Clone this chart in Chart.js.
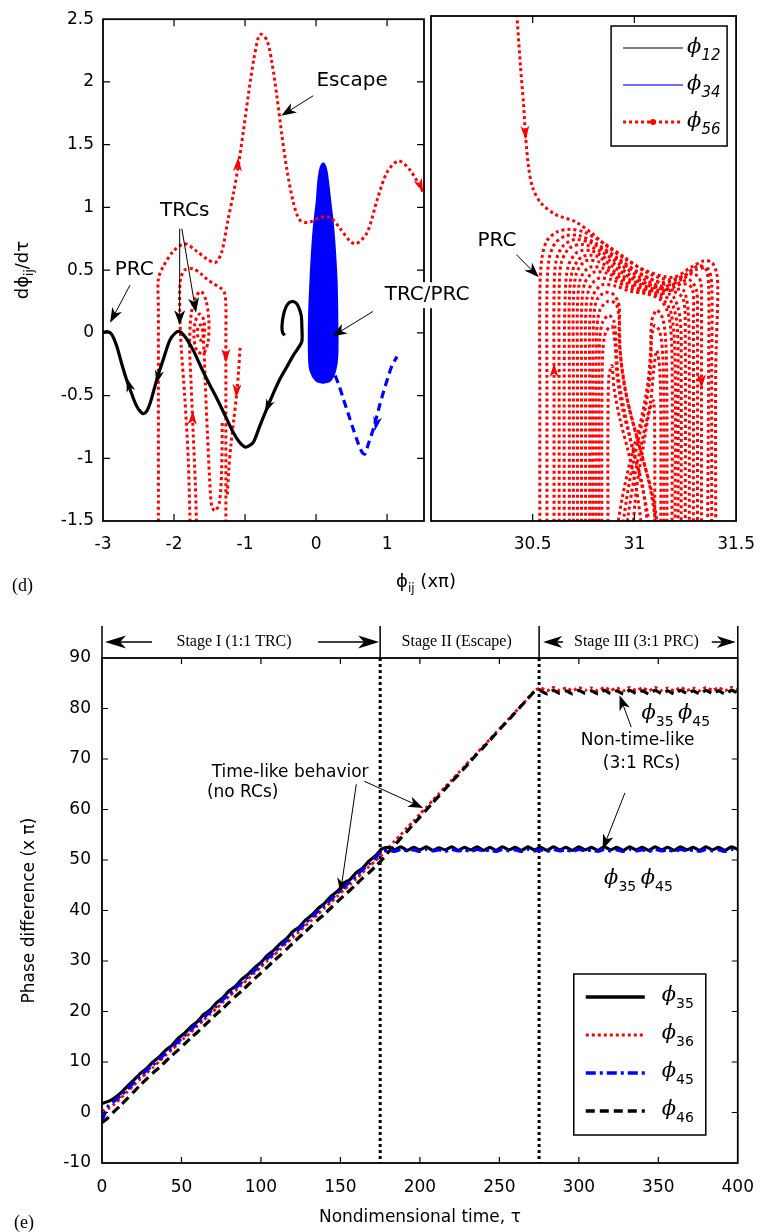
<!DOCTYPE html>
<html>
<head>
<meta charset="utf-8">
<title>Phase difference trajectories</title>
<script src="https://cdn.jsdelivr.net/npm/chart.js@4.4.1/dist/chart.umd.min.js"></script>
<style>
  body { margin: 0; background: #fff; }
  #page { position: relative; width: 768px; height: 1232px; }
  #page canvas { position: absolute; left: 0; top: 0; }
</style>
</head>
<body>
<div id="page">
  <canvas id="phase" width="768" height="1232"></canvas>
  <canvas id="prc" width="768" height="1232"></canvas>
  <canvas id="escape" width="768" height="1232"></canvas>
</div>
<script>
const SANS = '"DejaVu Sans", sans-serif';
const SERIF = '"Liberation Serif", "Times New Roman", serif';
const GREEK = '"DejaVu Serif", serif';
const PHI = '\u03d5';
const RED = '#ff0000', BLUE = '#0000ff';

// ---------- (d) left: phase portrait, phi (x pi) vs dphi/dtau ----------
const phi12Path = [[-3,0],[-2.94,0.01],[-2.88,-0.01],[-2.81,-0.1],[-2.74,-0.24],[-2.67,-0.37],[-2.6,-0.48],[-2.53,-0.58],
  [-2.47,-0.63],[-2.43,-0.645],[-2.38,-0.62],[-2.33,-0.55],[-2.29,-0.47],[-2.22,-0.33],[-2.15,-0.21],[-2.06,-0.06],
  [-1.98,0],[-1.92,0.01],[-1.86,-0.02],[-1.82,-0.05],[-1.72,-0.15],[-1.63,-0.26],[-1.52,-0.39],[-1.4,-0.52],
  [-1.28,-0.66],[-1.17,-0.79],[-1.08,-0.87],[-1,-0.91],[-0.94,-0.9],[-0.88,-0.87],[-0.79,-0.74],[-0.69,-0.6],
  [-0.6,-0.48],[-0.51,-0.37],[-0.41,-0.27],[-0.32,-0.18],[-0.25,-0.12],[-0.2,-0.07],[-0.2,0.05],[-0.21,0.14],
  [-0.27,0.23],[-0.34,0.25],[-0.41,0.22],[-0.46,0.14],[-0.48,0.05],[-0.47,0],[-0.44,-0.02]];
const phi34Blob = [[0.1,-0.4],[0.2,-0.38],[0.27,-0.3],[0.3,-0.18],[0.3,0.1],[0.29,0.4],[0.27,0.62],[0.24,0.85],
  [0.2,1.05],[0.17,1.2],[0.14,1.31],[0.1,1.35],[0.06,1.31],[0.03,1.2],[0.01,1.05],[-0.03,0.85],[-0.06,0.62],
  [-0.08,0.4],[-0.1,0.1],[-0.1,-0.18],[-0.08,-0.3],[0,-0.38],[0.1,-0.4]];
const phi34Tail = [[0.27,-0.34],[0.33,-0.43],[0.38,-0.52],[0.45,-0.64],[0.52,-0.76],[0.58,-0.86],[0.62,-0.92],
  [0.66,-0.96],[0.69,-0.965],[0.74,-0.88],[0.81,-0.76],[0.88,-0.61],[0.95,-0.47],[1.01,-0.36],[1.07,-0.26],[1.14,-0.19]];
const phi56Escape = [[-2.22,-1.6],[-2.22,-0.5],[-2.22,0.2],[-2.22,0.43],[-2.15,0.53],[-2.01,0.65],[-1.85,0.71],
  [-1.68,0.65],[-1.54,0.59],[-1.42,0.56],[-1.33,0.64],[-1.24,0.9],[-1.16,1.12],[-1.09,1.35],[-1.02,1.62],
  [-0.95,1.91],[-0.88,2.17],[-0.81,2.36],[-0.77,2.38],[-0.69,2.33],[-0.62,2.15],[-0.55,1.88],[-0.48,1.57],
  [-0.41,1.3],[-0.32,1.04],[-0.23,0.9],[-0.11,0.88],[0.06,0.92],[0.2,0.92],[0.34,0.83],[0.48,0.73],[0.57,0.71],
  [0.72,0.8],[0.86,1.06],[1,1.28],[1.16,1.37],[1.32,1.3],[1.51,1.12]];
const phi56Trc = [
  [[-1.77,-1.6],[-1.8,-1],[-1.85,-0.5],[-1.9,-0.1],[-1.92,0.2],[-1.91,0.42],[-1.85,0.5],[-1.73,0.51],[-1.62,0.47],
   [-1.54,0.43],[-1.44,0.39],[-1.35,0.36],[-1.29,0.32],[-1.27,0.22],[-1.27,0],[-1.27,-0.5],[-1.27,-1],[-1.27,-1.6]],
  [[-1.68,-1.6],[-1.7,-1.2],[-1.73,-0.8],[-1.76,-0.4],[-1.78,-0.1],[-1.76,0.14],[-1.7,0.28],[-1.62,0.33],[-1.55,0.26],
   [-1.51,0.1],[-1.52,-0.07],[-1.58,-0.16],[-1.67,-0.15],[-1.72,-0.04],[-1.7,0.09],[-1.64,0.15],[-1.58,0.1],
   [-1.57,0],[-1.6,-0.06],[-1.66,-0.04],[-1.66,0.05],[-1.61,0.06],[-1.58,-0.12],[-1.56,-0.4],[-1.53,-0.8],
   [-1.5,-1.15],[-1.47,-1.38],[-1.42,-1.42],[-1.36,-1.35],[-1.33,-1.1],[-1.32,-0.7]],
  [[-1.07,-0.12],[-1.09,-0.3],[-1.12,-0.5],[-1.16,-0.7],[-1.2,-0.9],[-1.23,-1.1],[-1.25,-1.3]]
];

// ---------- (d) right: settling into the 3:1 PRC ----------
const phi56Entry = [[30.42,2.56],[30.44,2.1],[30.455,1.8],[30.465,1.55],[30.48,1.3],[30.5,1.14],[30.54,1.02],
  [30.61,0.93],[30.71,0.87],[30.79,0.78],[30.87,0.67],[30.96,0.57],[31.06,0.48],[31.19,0.43],[31.28,0.51],
  [31.34,0.56],[31.38,0.55],[31.405,0.46],[31.41,0.3],[31.4,-0.3],[31.4,-1.6]];
const phi56Loops = [
  [[30.535,-1.6],[30.535,-0.5],[30.535,0.3],[30.545,0.58],[30.57,0.72],[30.62,0.79],[30.68,0.81],[30.75,0.79],[30.84,0.71],[30.95,0.59],[31.06,0.47],[31.17,0.41],[31.25,0.45],[31.31,0.52],[31.35,0.5],[31.365,0.36],[31.365,-0.3],[31.36,-1.6]],
  [[30.57,-1.6],[30.57,-0.4],[30.57,0.3],[30.58,0.57],[30.61,0.7],[30.665,0.76],[30.73,0.76],[30.81,0.7],[30.92,0.58],[31.03,0.46],[31.13,0.39],[31.22,0.42],[31.3,0.49],[31.36,0.5],[31.38,0.38],[31.38,-0.3],[31.38,-1.6]],
  [[30.605,-1.6],[30.605,-0.4],[30.605,0.3],[30.615,0.56],[30.65,0.68],[30.71,0.73],[30.79,0.7],[30.89,0.6],[30.99,0.49],[31.09,0.41],[31.17,0.37],[31.24,0.42],[31.29,0.46],[31.325,0.4],[31.33,0.2],[31.33,-0.4],[31.33,-1.6]],
  [[30.63,-1.6],[30.63,-0.4],[30.63,0.3],[30.64,0.54],[30.68,0.66],[30.75,0.69],[30.84,0.63],[30.94,0.52],[31.04,0.42],[31.13,0.36],[31.21,0.38],[31.27,0.41],[31.305,0.33],[31.31,0.1],[31.31,-1.6]],
  [[30.655,-1.6],[30.655,-0.3],[30.66,0.3],[30.675,0.52],[30.72,0.63],[30.79,0.64],[30.88,0.56],[30.98,0.45],[31.08,0.37],[31.17,0.34],[31.24,0.38],[31.285,0.34],[31.29,0.1],[31.29,-1.6]],
  [[30.68,-1.6],[30.68,-0.3],[30.68,0.25],[30.695,0.48],[30.74,0.59],[30.81,0.6],[30.9,0.51],[31,0.41],[31.1,0.35],[31.18,0.33],[31.24,0.33],[31.265,0.15],[31.27,-0.3],[31.27,-1.6]],
  [[30.7,-1.6],[30.7,-0.3],[30.7,0.25],[30.715,0.46],[30.76,0.56],[30.83,0.55],[30.92,0.46],[31.02,0.38],[31.11,0.33],[31.19,0.32],[31.24,0.26],[31.25,0],[31.25,-1.6]],
  [[30.72,-1.6],[30.72,-0.3],[30.72,0.2],[30.735,0.42],[30.78,0.51],[30.85,0.5],[30.94,0.42],[31.03,0.35],[31.12,0.31],[31.19,0.28],[31.225,0.1],[31.23,-0.3],[31.23,-1.6]],
  [[30.74,-1.6],[30.74,-0.3],[30.74,0.15],[30.755,0.38],[30.8,0.47],[30.87,0.46],[30.95,0.39],[31.04,0.33],[31.12,0.3],[31.18,0.24],[31.21,0.05],[31.215,-0.4],[31.215,-1.6]],
  [[30.76,-1.6],[30.76,-0.3],[30.76,0.1],[30.775,0.33],[30.82,0.42],[30.89,0.41],[30.97,0.35],[31.05,0.31],[31.13,0.27],[31.18,0.15],[31.2,-0.2],[31.2,-1.6]],
  [[30.78,-1.6],[30.78,-0.3],[30.78,0.05],[30.795,0.28],[30.84,0.37],[30.91,0.36],[30.98,0.32],[31.06,0.3],[31.13,0.25],[31.17,0.12],[31.185,-0.2],[31.185,-1.6]],
  [[30.795,-1.6],[30.795,-0.4],[30.8,0.1],[30.815,0.25],[30.855,0.31],[30.9,0.29],[30.925,0.2],[30.925,-0.05],[30.94,-0.3],[30.97,-0.58],[31.02,-0.88],[31.07,-1.18],[31.1,-1.45],[31.11,-1.6]],
  [[30.81,-1.6],[30.81,-0.5],[30.815,0],[30.83,0.17],[30.87,0.24],[30.91,0.22],[30.925,0.1],[30.93,-0.15],[30.95,-0.42],[30.99,-0.7],[31.04,-1],[31.09,-1.3],[31.12,-1.6]],
  [[30.825,-1.6],[30.825,-0.5],[30.83,-0.05],[30.845,0.08],[30.875,0.13],[30.9,0.08],[30.91,-0.1],[30.92,-0.35],[30.95,-0.62],[30.99,-0.92],[31.04,-1.22],[31.07,-1.6]],
  [[30.84,-1.6],[30.84,-0.6],[30.845,-0.15],[30.86,0],[30.89,0.04],[30.905,-0.1],[30.915,-0.35],[30.94,-0.6],[30.98,-0.85],[31.02,-1.1],[31.06,-1.4],[31.08,-1.6]],
  [[30.87,-1.6],[30.87,-0.7],[30.875,-0.35],[30.89,-0.27],[30.9,-0.45],[30.93,-0.7],[30.97,-0.95],[31.01,-1.25],[31.04,-1.6]],
  [[31.16,-1.6],[31.16,-0.6],[31.155,-0.1],[31.14,0.1],[31.11,0.17],[31.085,0.08],[31.08,-0.15],[31.065,-0.42],[31.03,-0.72],[30.98,-1.02],[30.94,-1.32],[30.91,-1.6]],
  [[31.145,-1.6],[31.145,-0.6],[31.14,-0.2],[31.125,0],[31.1,0.05],[31.085,-0.05],[31.08,-0.3],[31.06,-0.55],[31.02,-0.85],[30.98,-1.15],[30.95,-1.45],[30.94,-1.6]],
  [[31.13,-1.6],[31.13,-0.7],[31.125,-0.3],[31.11,-0.15],[31.095,-0.3],[31.08,-0.55],[31.04,-0.85],[31,-1.15],[30.97,-1.45],[30.96,-1.6]],
  [[31.1,-1.6],[31.1,-0.9],[31.095,-0.55],[31.075,-0.62],[31.04,-0.95],[31.01,-1.25],[30.99,-1.6]]
];

// ---------- (e) phase differences vs nondimensional time ----------
const tau = [0,4,8,12,16,20,24,28,32,36,40,44,48,52,56,60,64,68,72,76,80,84,88,92,96,
  100,104,108,112,116,120,124,128,132,136,140,144,148,152,156,160,164,168,172,176,180,184,188,192,196,
  200,204,208,212,216,220,224,228,232,236,240,244,248,252,256,260,264,268,272,276,280,284,288,292,296,
  300,304,308,312,316,320,324,328,332,336,340,344,348,352,356,360,364,368,372,376,380,384,388,392,396,400];
const phi35 = [1.8,2.2,2.9,3.9,5.2,6.4,7.7,8.7,10.0,11.0,12.3,13.3,14.7,15.7,17.0,18.0,19.4,20.3,21.7,22.7,
  24.1,25.0,26.4,27.4,28.7,29.7,31.1,32.1,33.4,34.4,35.8,36.7,38.1,39.1,40.4,41.4,42.8,43.8,45.1,46.1,
  47.5,48.4,49.8,50.8,52.2,
  52.5,52.0,52.6,51.9,52.5,52.0,52.6,51.9, 52.4,52.0,52.6,51.9,52.5,52.0,52.6,51.9,
  52.5,51.9,52.6,52.0,52.5,51.9,52.6,52.0, 52.5,51.9,52.6,52.0,52.5,51.9,52.6,52.0,
  52.5,51.9,52.6,52.0,52.5,51.9,52.6,52.0, 52.5,51.9,52.6,52.0,52.5,51.9,52.6,52.0,
  52.5,51.9,52.6,52.0,52.5,51.9,52.6,52.1];
const phi36 = [0.3,0.8,1.7,2.9,4.1,5.4,6.6,7.8,8.9,10.1,11.3,12.4,13.6,14.8,15.9,17.1,18.3,19.4,20.6,21.8,
  23.0,24.1,25.3,26.5,27.6,28.8,30.0,31.1,32.3,33.5,34.6,35.8,37.0,38.1,39.3,40.5,41.6,42.8,44.0,45.1,
  46.3,47.5,48.7,49.8,51.0,
  52.3,53.7,55.0,56.4,57.7,59.1,60.4,61.8,63.1,64.5,65.8,67.2,68.5,69.9,71.2,72.6,73.9,75.3,76.6,78.0,
  79.3,80.7,82.0,83.5,
  84.1,83.5,84.2,83.6,84.1,83.5,84.2,83.6, 84.1,83.5,84.2,83.6,84.1,83.5,84.2,83.6,
  84.1,83.5,84.2,83.6,84.1,83.5,84.2,83.6, 84.1,83.5,84.2,83.6,84.1,83.5,84.2,83.7];
const phi45 = [-1.6,1.3,2.3,3.4,4.6,5.9,7.2,8.3,9.4,10.6,11.7,12.9,14.1,15.2,16.4,17.6,18.8,19.9,21.1,22.3,
  23.5,24.6,25.8,27.0,28.1,29.3,30.5,31.6,32.8,34.0,35.2,36.3,37.5,38.7,39.9,41.0,42.2,43.4,44.5,45.7,
  46.9,48.1,49.2,50.4,51.7,
  52.0,51.7,52.1,51.8,52.0,51.7,52.1,51.8, 52.0,51.7,52.1,51.8,52.0,51.7,52.1,51.8,
  52.0,51.7,52.1,51.8,52.0,51.7,52.1,51.8, 52.0,51.7,52.1,51.8,52.0,51.7,52.1,51.8,
  52.0,51.7,52.1,51.8,52.0,51.7,52.1,51.8, 52.0,51.7,52.1,51.8,52.0,51.7,52.1,51.8,
  52.0,51.7,52.1,51.8,52.0,51.7,52.1,51.9];
const phi46 = [-2.0,-1.0,0.3,1.5,2.8,4.1,5.4,6.6,7.8,8.9,10.1,11.3,12.4,13.6,14.8,15.9,17.1,18.3,19.5,20.6,
  21.8,23.0,24.1,25.3,26.5,27.6,28.8,30.0,31.1,32.3,33.5,34.7,35.8,37.0,38.2,39.3,40.5,41.7,42.9,44.0,
  45.2,46.4,47.5,48.7,50.0,
  51.5,52.9,54.3,55.7,57.1,58.5,59.9,61.3,62.7,64.1,65.5,66.8,68.2,69.6,71.0,72.3,73.7,75.1,76.5,77.8,
  79.2,80.6,82.0,83.3,
  83.5,82.9,83.6,83.0,83.5,82.9,83.6,83.0, 83.5,82.9,83.6,83.0,83.5,82.9,83.6,83.0,
  83.5,82.9,83.6,83.0,83.5,82.9,83.6,83.0, 83.5,82.9,83.6,83.0,83.5,82.9,83.6,83.1];
const stageBounds = [175, 275];
const stageNames = ['Stage I (1:1 TRC)', 'Stage II (Escape)', 'Stage III (3:1 PRC)'];

// ---------- helpers ----------
const toPts = a => a.map(p => ({x: p[0], y: p[1]}));
const series = v => tau.map((t, i) => ({x: t, y: v[i]}));

function head(ctx, x1, y1, x2, y2, color, len, half) {
  const ang = Math.atan2(y2 - y1, x2 - x1);
  ctx.save();
  ctx.translate(x2, y2);
  ctx.rotate(ang);
  ctx.beginPath();
  ctx.moveTo(0, 0);
  ctx.lineTo(-len, -half);
  ctx.lineTo(-len * 0.72, 0);
  ctx.lineTo(-len, half);
  ctx.closePath();
  ctx.fillStyle = color;
  ctx.fill();
  ctx.restore();
}
function arrow(ctx, x1, y1, x2, y2, lw, len, half) {
  const ang = Math.atan2(y2 - y1, x2 - x1);
  ctx.save();
  ctx.strokeStyle = '#000';
  ctx.lineWidth = lw;
  ctx.beginPath();
  ctx.moveTo(x1, y1);
  ctx.lineTo(x2 - Math.cos(ang) * len * 0.7, y2 - Math.sin(ang) * len * 0.7);
  ctx.stroke();
  ctx.restore();
  head(ctx, x1, y1, x2, y2, '#000', len, half);
}
// text made of pieces (for subscripts)
function richText(ctx, parts, x, y, align) {
  let w = 0;
  parts.forEach(p => { ctx.font = p.font; w += ctx.measureText(p.t).width; });
  let cx = align === 'center' ? x - w / 2 : (align === 'right' ? x - w : x);
  ctx.textAlign = 'left';
  ctx.textBaseline = 'alphabetic';
  parts.forEach(p => {
    ctx.font = p.font;
    ctx.fillText(p.t, cx, y + (p.dy || 0));
    cx += ctx.measureText(p.t).width;
  });
  return w;
}
function phiParts(sub, size, subFont) {
  return [{t: PHI, font: `italic ${size}px ${GREEK}`}, {t: sub, font: subFont, dy: Math.round(size * 0.32)}];
}
function frame(chart, lw) {
  const {ctx, chartArea: a} = chart;
  ctx.save();
  ctx.strokeStyle = '#000';
  ctx.lineWidth = lw;
  ctx.strokeRect(a.left, a.top, a.right - a.left, a.bottom - a.top);
  ctx.restore();
}
function innerTicks(chart, doX, doY, len) {
  const {ctx, chartArea: a, scales: {x, y}} = chart;
  ctx.save();
  ctx.strokeStyle = '#000';
  ctx.lineWidth = 1.2;
  ctx.beginPath();
  if (doX) x.ticks.forEach(t => {
    const p = x.getPixelForValue(t.value);
    if (p < a.left + 2 || p > a.right - 2) return;
    ctx.moveTo(p, a.bottom); ctx.lineTo(p, a.bottom - len);
    ctx.moveTo(p, a.top); ctx.lineTo(p, a.top + len);
  });
  if (doY) y.ticks.forEach(t => {
    const p = y.getPixelForValue(t.value);
    if (p < a.top + 2 || p > a.bottom - 2) return;
    ctx.moveTo(a.left, p); ctx.lineTo(a.left + len, p);
    ctx.moveTo(a.right, p); ctx.lineTo(a.right - len, p);
  });
  ctx.stroke();
  ctx.restore();
}
const tickFont = {family: SANS, size: 17};
const numLabel = v => String(+(+v).toFixed(2));
const line = (data, color, width, dash, order, extra) => Object.assign({
  data, borderColor: color, borderWidth: width, borderDash: dash, borderCapStyle: 'butt',
  showLine: true, pointRadius: 0, tension: 0.3, fill: false, order
}, extra || {});
const baseOptions = (padding) => ({
  responsive: false, animation: false, events: [],
  layout: {padding},
  plugins: {legend: {display: false}, tooltip: {enabled: false}}
});

// ---------- (d) left chart ----------
const escapeMarks = [
  [-1.12, 1.18, -1.095, 1.40, RED], [1.40, 1.26, 1.51, 1.12, RED], [-1.27, 0.0, -1.27, -0.24, RED],
  [-1.10, -0.30, -1.125, -0.52, RED], [-1.755, -0.9, -1.735, -0.62, RED],
  [-2.6, -0.48, -2.665, -0.36, '#000'], [-2.20, -0.29, -2.25, -0.41, '#000'], [-0.62, -0.51, -0.72, -0.64, '#000'],
  [0.91, -0.54, 0.83, -0.78, BLUE]
];
const escapeNotes = [
  {t: 'Escape', x: 0.507, y: 2.01}, {t: 'TRCs', x: -1.85, y: 0.97},
  {t: 'PRC', x: -2.56, y: 0.505}, {t: 'TRC/PRC', x: 1.563, y: 0.30, bg: true}
];
const escapeArrows = [[-0.04, 1.89, -0.49, 1.73], [-1.92, 0.83, -1.92, 0.06], [-1.89, 0.83, -1.69, 0.16],
  [-2.62, 0.38, -2.90, 0.08], [0.80, 0.17, 0.225, -0.03]];

const escapeDecor = {
  id: 'escapeDecor',
  afterDraw(chart) {
    const {ctx, chartArea: a} = chart;
    const P = (x, y) => [chart.scales.x.getPixelForValue(x), chart.scales.y.getPixelForValue(y)];
    innerTicks(chart, true, true, 7);
    frame(chart, 1.8);
    escapeMarks.forEach(m => { const p = P(m[0], m[1]), q = P(m[2], m[3]); head(ctx, p[0], p[1], q[0], q[1], m[4], 14, 4.5); });
    ctx.save();
    ctx.font = `20px ${SANS}`;
    ctx.textAlign = 'center';
    ctx.textBaseline = 'middle';
    escapeNotes.forEach(n => {
      const [x, y] = P(n.x, n.y);
      if (n.bg) {
        const w = ctx.measureText(n.t).width;
        ctx.fillStyle = '#fff';
        ctx.fillRect(x - w / 2 - 3, y - 13, w + 6, 26);
      }
      ctx.fillStyle = '#000';
      ctx.fillText(n.t, x, y);
    });
    ctx.restore();
    escapeArrows.forEach(r => { const p = P(r[0], r[1]), q = P(r[2], r[3]); arrow(ctx, p[0], p[1], q[0], q[1], 1, 15, 5.5); });
    // axis titles and panel tag
    ctx.save();
    ctx.fillStyle = '#000';
    ctx.translate(a.left - 81, (a.top + a.bottom) / 2);
    ctx.rotate(-Math.PI / 2);
    richText(ctx, [{t: 'd' + PHI, font: `18px ${SANS}`}, {t: 'ij', font: `12px ${SANS}`, dy: 5},
      {t: '/d\u03c4', font: `18px ${SANS}`}], 0, 6, 'center');
    ctx.restore();
    ctx.save();
    ctx.fillStyle = '#000';
    richText(ctx, [{t: PHI, font: `18px ${SANS}`}, {t: 'ij', font: `12px ${SANS}`, dy: 5},
      {t: ' (x\u03c0)', font: `18px ${SANS}`}], a.right + 2, a.bottom + 66, 'center');
    ctx.font = `18px ${SERIF}`;
    ctx.textAlign = 'left';
    ctx.textBaseline = 'middle';
    ctx.fillText('(d)', a.left - 91, a.bottom + 65);
    ctx.restore();
  }
};

new Chart(document.getElementById('escape'), {
  type: 'scatter',
  data: {
    datasets: [
      line(toPts(phi12Path), '#000', 3.2, [], 0),
      line(toPts(phi56Escape), RED, 3, [3, 3], 1),
      ...phi56Trc.map(p => line(toPts(p), RED, 3, [3, 3], 1)),
      line(toPts(phi34Blob), BLUE, 2, [], 2, {fill: 'shape', backgroundColor: BLUE, tension: 0.35}),
      line(toPts(phi34Tail), BLUE, 3.2, [8, 5], 2)
    ]
  },
  options: Object.assign(baseOptions({left: 33, right: 344, top: 16, bottom: 661}), {
    scales: {
      x: {type: 'linear', min: -3, max: 1.52, afterFit: s => { s.height = 50; },
        grid: {display: false, drawTicks: false}, border: {display: false},
        ticks: {stepSize: 1, includeBounds: false, padding: 13, color: '#000', font: tickFont, maxRotation: 0, autoSkip: false, callback: numLabel}},
      y: {type: 'linear', min: -1.5, max: 2.5, afterFit: s => { s.width = 70; },
        grid: {display: false, drawTicks: false}, border: {display: false},
        ticks: {stepSize: 0.5, padding: 9, color: '#000', font: tickFont, autoSkip: false, callback: numLabel}}
    }
  }),
  plugins: [escapeDecor]
});

// ---------- (d) right chart ----------
const prcMarks = [[30.45, 1.9, 30.466, 1.52], [30.605, -0.6, 30.605, -0.25], [31.33, -0.1, 31.33, -0.45]];
const prcDecor = {
  id: 'prcDecor',
  afterDraw(chart) {
    const {ctx, chartArea: a} = chart;
    const P = (x, y) => [chart.scales.x.getPixelForValue(x), chart.scales.y.getPixelForValue(y)];
    innerTicks(chart, true, false, 7);
    frame(chart, 1.8);
    prcMarks.forEach(m => { const p = P(m[0], m[1]), q = P(m[2], m[3]); head(ctx, p[0], p[1], q[0], q[1], RED, 14, 4.5); });
    ctx.save();
    ctx.fillStyle = '#000';
    ctx.font = `20px ${SANS}`;
    ctx.textAlign = 'center';
    ctx.textBaseline = 'middle';
    const t = P(30.324, 0.72);
    ctx.fillText('PRC', t[0], t[1]);
    ctx.restore();
    const p = P(30.42, 0.61), q = P(30.53, 0.43);
    arrow(ctx, p[0], p[1], q[0], q[1], 1, 15, 5.5);
    // legend
    const L = a.right - 125, T = a.top + 10, W = 116, H = 120;
    ctx.save();
    ctx.fillStyle = '#fff';
    ctx.fillRect(L, T, W, H);
    ctx.strokeStyle = '#000';
    ctx.lineWidth = 1.5;
    ctx.strokeRect(L, T, W, H);
    const rows = [['12', '#000', 1, []], ['34', '#4040ff', 1.3, []], ['56', RED, 3, [3, 3]]];
    rows.forEach((r, i) => {
      const y = T + 22 + i * 37;
      ctx.strokeStyle = r[1];
      ctx.lineWidth = r[2];
      ctx.setLineDash(r[3]);
      ctx.beginPath(); ctx.moveTo(L + 12, y); ctx.lineTo(L + 72, y); ctx.stroke();
      ctx.setLineDash([]);
      if (i === 2) { ctx.fillStyle = RED; ctx.beginPath(); ctx.arc(L + 42, y, 3, 0, 2 * Math.PI); ctx.fill(); }
      ctx.fillStyle = '#000';
      richText(ctx, phiParts(r[0], 21, `italic 15px ${SANS}`), L + 76, y + 5, 'left');
    });
    ctx.restore();
  }
};

new Chart(document.getElementById('prc'), {
  type: 'scatter',
  data: {
    datasets: [
      line(toPts(phi56Entry), RED, 3, [3, 3], 0),
      ...phi56Loops.map(p => line(toPts(p), RED, 3, [3, 3], 0))
    ]
  },
  options: Object.assign(baseOptions({left: 431, right: 23, top: 16, bottom: 661}), {
    scales: {
      x: {type: 'linear', min: 30, max: 31.5, afterFit: s => { s.height = 50; },
        grid: {display: false, drawTicks: false}, border: {display: false},
        ticks: {stepSize: 0.5, padding: 13, color: '#000', font: tickFont, maxRotation: 0, autoSkip: false,
          callback: v => (Math.abs(v - 30) < 1e-6 ? '' : numLabel(v))}},
      y: {type: 'linear', min: -1.5, max: 2.5, display: false}
    }
  }),
  plugins: [prcDecor]
});

// ---------- (e) chart ----------
const phaseNotes = [
  {t: 'Time-like behavior', x: 69, y: 67.4, align: 'left'}, {t: '(no RCs)', x: 66, y: 63.3, align: 'left'},
  {t: 'Non-time-like', x: 337, y: 73.6, align: 'center'}, {t: '(3:1 RCs)', x: 339.5, y: 69.0, align: 'center'}
];
const phaseArrows = [[160, 65.0, 150, 43.5], [165, 65.6, 202, 60.3], [333, 76.3, 325.6, 82.6], [329, 63.3, 315, 52.1]];
const pairLabels = [{x: 361, y: 79.1}, {x: 337.5, y: 46.4}];

const phaseDecor = {
  id: 'phaseDecor',
  beforeDatasetsDraw(chart) {
    const {ctx, chartArea: a, scales: {x}} = chart;
    ctx.save();
    ctx.strokeStyle = '#000';
    ctx.lineWidth = 3;
    ctx.setLineDash([3, 3]);
    stageBounds.forEach(b => {
      const p = x.getPixelForValue(b);
      ctx.beginPath(); ctx.moveTo(p, a.top); ctx.lineTo(p, a.bottom); ctx.stroke();
    });
    ctx.restore();
  },
  afterDraw(chart) {
    const {ctx, chartArea: a, scales: {x, y}} = chart;
    const P = (u, v) => [x.getPixelForValue(u), y.getPixelForValue(v)];
    innerTicks(chart, true, true, 6);
    frame(chart, 1.8);
    // stage header
    const xs = [a.left, x.getPixelForValue(stageBounds[0]), x.getPixelForValue(stageBounds[1]), a.right];
    const hTop = a.top - 32, hy = a.top - 16;
    ctx.save();
    ctx.strokeStyle = '#000';
    ctx.lineWidth = 1.5;
    ctx.beginPath();
    xs.forEach(p => { ctx.moveTo(p, hTop); ctx.lineTo(p, a.top); });
    ctx.stroke();
    ctx.fillStyle = '#000';
    ctx.font = `16px ${SERIF}`;
    ctx.textAlign = 'center';
    ctx.textBaseline = 'middle';
    ctx.fillText(stageNames[0], (xs[0] + xs[1]) / 2 - 7, hy);
    ctx.fillText(stageNames[1], (xs[1] + xs[2]) / 2 - 3, hy);
    ctx.fillText(stageNames[2], (xs[2] + xs[3]) / 2 - 2, hy);
    ctx.restore();
    arrow(ctx, xs[0] + 50, hy, xs[0] + 3, hy, 1.5, 21, 6.5);
    arrow(ctx, xs[1] - 62, hy, xs[1] - 1, hy, 1.5, 21, 6.5);
    arrow(ctx, xs[2] + 24, hy, xs[2] + 4, hy, 1.5, 19, 6);
    arrow(ctx, xs[3] - 26, hy, xs[3] - 2, hy, 1.5, 19, 6);
    // annotations
    ctx.save();
    ctx.fillStyle = '#000';
    ctx.font = `17px ${SANS}`;
    ctx.textBaseline = 'middle';
    phaseNotes.forEach(n => { const [px, py] = P(n.x, n.y); ctx.textAlign = n.align; ctx.fillText(n.t, px, py); });
    pairLabels.forEach(l => {
      const [px, py] = P(l.x, l.y);
      richText(ctx, [...phiParts('35', 21, `14px ${SANS}`), {t: ' ', font: `14px ${SANS}`}, ...phiParts('45', 21, `14px ${SANS}`)], px, py + 6, 'center');
    });
    ctx.restore();
    phaseArrows.forEach(r => { const p = P(r[0], r[1]), q = P(r[2], r[3]); arrow(ctx, p[0], p[1], q[0], q[1], 1, 15, 5.5); });
    // legend
    const L = a.right - 164, T = a.top + 316, W = 132, H = 161;
    ctx.save();
    ctx.fillStyle = '#fff';
    ctx.fillRect(L, T, W, H);
    ctx.strokeStyle = '#000';
    ctx.lineWidth = 1.5;
    ctx.strokeRect(L, T, W, H);
    const rows = [['35', '#000', 3.5, []], ['36', RED, 3, [3, 3]], ['45', BLUE, 3.5, [10, 4, 3, 4]], ['46', '#000', 3.5, [9, 5]]];
    rows.forEach((r, i) => {
      const yy = T + 23 + i * 38;
      ctx.strokeStyle = r[1];
      ctx.lineWidth = r[2];
      ctx.setLineDash(r[3]);
      ctx.beginPath(); ctx.moveTo(L + 12, yy); ctx.lineTo(L + 71, yy); ctx.stroke();
      ctx.setLineDash([]);
      ctx.fillStyle = '#000';
      richText(ctx, phiParts(r[0], 21, `14px ${SANS}`), L + 88, yy + 4, 'left');
    });
    ctx.restore();
    // axis titles and panel tag
    ctx.save();
    ctx.fillStyle = '#000';
    ctx.font = `17px ${SANS}`;
    ctx.textAlign = 'center';
    ctx.textBaseline = 'middle';
    ctx.fillText('Nondimensional time, \u03c4', (a.left + a.right) / 2, a.bottom + 55);
    ctx.translate(a.left - 72, (a.top + a.bottom) / 2);
    ctx.rotate(-Math.PI / 2);
    ctx.fillText('Phase difference (x \u03c0)', 0, 0);
    ctx.restore();
    ctx.save();
    ctx.fillStyle = '#000';
    ctx.font = `18px ${SERIF}`;
    ctx.textBaseline = 'middle';
    ctx.fillText('(e)', a.left - 88, a.bottom + 60);
    ctx.restore();
  }
};

new Chart(document.getElementById('phase'), {
  type: 'scatter',
  data: {
    datasets: [
      line(series(phi35), '#000', 3.2, [], 2, {tension: 0.2}),
      line(series(phi36), RED, 2.8, [3, 3], 3, {tension: 0.2}),
      line(series(phi45), BLUE, 3.2, [10, 4, 3, 4], 0, {tension: 0.2}),
      line(series(phi46), '#000', 3.2, [9, 5], 1, {tension: 0.2})
    ]
  },
  options: Object.assign(baseOptions({left: 32, right: 26, top: 658, bottom: 19}), {
    scales: {
      x: {type: 'linear', min: 0, max: 400, afterFit: s => { s.height = 50; },
        grid: {display: false, drawTicks: false}, border: {display: false},
        ticks: {stepSize: 50, padding: 14, color: '#000', font: tickFont, maxRotation: 0, autoSkip: false, callback: numLabel}},
      y: {type: 'linear', min: -10, max: 90, afterFit: s => { s.width = 70; },
        grid: {display: false, drawTicks: false}, border: {display: false},
        ticks: {stepSize: 10, padding: 11, color: '#000', font: tickFont, autoSkip: false, callback: numLabel}}
    }
  }),
  plugins: [phaseDecor]
});
</script>
</body>
</html>
